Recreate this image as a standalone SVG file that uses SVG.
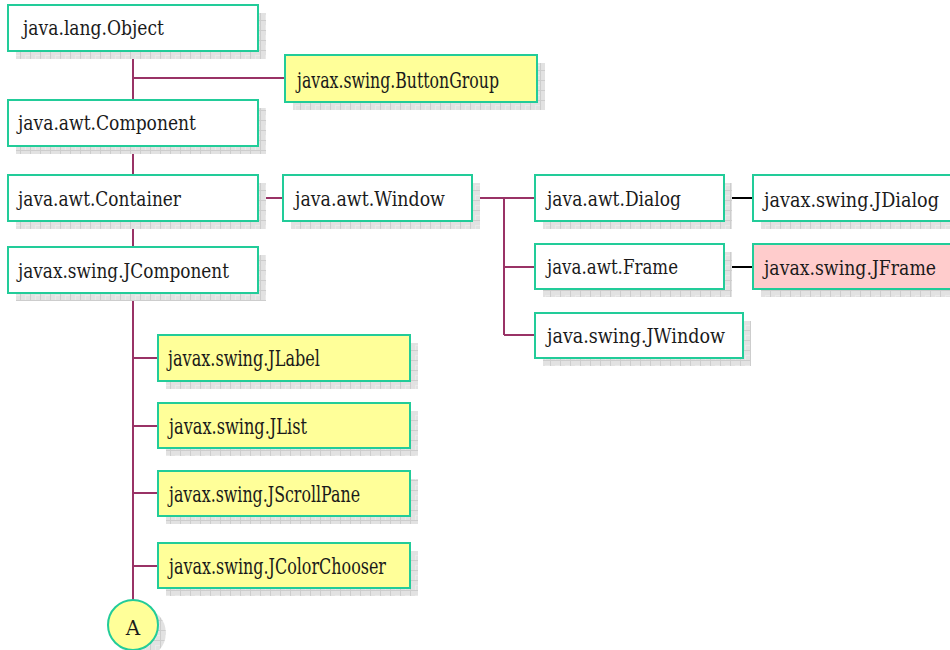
<svg xmlns="http://www.w3.org/2000/svg" width="950" height="650" viewBox="0 0 950 650">
<defs>
<pattern id="grid" width="10" height="10" patternUnits="userSpaceOnUse">
<rect width="10" height="10" fill="#E2E2E2"/>
<path d="M0 0.5H10M0.5 0V10" stroke="#CDCDCD" stroke-width="1"/>
<path d="M5 5.5H10M5.5 5V10" stroke="#EAEAEA" stroke-width="1"/>
</pattern>
</defs>
<style>
.sh{fill:url(#grid)}
.bx{fill:#FFFFFF;stroke:#22CC99;stroke-width:2}
.yl{fill:#FFFF99;stroke:#22CC99;stroke-width:2}
.pk{fill:#FFCCCC;stroke:#22CC99;stroke-width:2}
.t{font-size:20px}
.ty{font-size:22px}
.c{stroke:#993366;stroke-width:2;fill:none}
.k{stroke:#000000;stroke-width:2;fill:none}
</style>
<g id="connectors">
<path class="c" d="M133 51V100M133 78H285M133 146V175M133 221V247M133 293V600"/>
<path class="c" d="M258 198H283M472 198H535M504 198V335M504 267H535M504 335H535"/>
<path class="c" d="M133 358H158M133 426H158M133 493H158M133 566H158"/>
<path class="k" d="M724 198H753M724 267H753"/>
</g>
<g font-family="'DejaVu Serif', 'Liberation Serif', serif" fill="#1a1a1a">
<g id="object"><rect class="sh" x="16" y="13" width="250" height="46"/><rect class="bx" x="8" y="5" width="250" height="46"/><text class="t" x="23" y="35" textLength="141" lengthAdjust="spacingAndGlyphs">java.lang.Object</text></g>
<g id="buttongroup"><rect class="sh" x="293" y="63" width="252" height="47"/><rect class="yl" x="285" y="55" width="252" height="47"/><text class="ty" x="297" y="88" textLength="202" lengthAdjust="spacingAndGlyphs">javax.swing.ButtonGroup</text></g>
<g id="component"><rect class="sh" x="16" y="108" width="250" height="46"/><rect class="bx" x="8" y="100" width="250" height="46"/><text class="t" x="18" y="130" textLength="178" lengthAdjust="spacingAndGlyphs">java.awt.Component</text></g>
<g id="container"><rect class="sh" x="16" y="183" width="250" height="46"/><rect class="bx" x="8" y="175" width="250" height="46"/><text class="t" x="18" y="206" textLength="163" lengthAdjust="spacingAndGlyphs">java.awt.Container</text></g>
<g id="jcomponent"><rect class="sh" x="16" y="255" width="250" height="46"/><rect class="bx" x="8" y="247" width="250" height="46"/><text class="t" x="18" y="278" textLength="211" lengthAdjust="spacingAndGlyphs">javax.swing.JComponent</text></g>
<g id="window"><rect class="sh" x="291" y="183" width="189" height="46"/><rect class="bx" x="283" y="175" width="189" height="46"/><text class="t" x="295" y="206" textLength="150" lengthAdjust="spacingAndGlyphs">java.awt.Window</text></g>
<g id="dialog"><rect class="sh" x="543" y="183" width="189" height="46"/><rect class="bx" x="535" y="175" width="189" height="46"/><text class="t" x="547" y="206" textLength="134" lengthAdjust="spacingAndGlyphs">java.awt.Dialog</text></g>
<g id="jdialog"><rect class="sh" x="761" y="183" width="210" height="46"/><rect class="bx" x="753" y="175" width="210" height="46"/><text class="t" x="764" y="207" textLength="175" lengthAdjust="spacingAndGlyphs">javax.swing.JDialog</text></g>
<g id="frame"><rect class="sh" x="543" y="252" width="189" height="45"/><rect class="bx" x="535" y="244" width="189" height="45"/><text class="t" x="547" y="274" textLength="131" lengthAdjust="spacingAndGlyphs">java.awt.Frame</text></g>
<g id="jframe"><rect class="sh" x="761" y="252" width="210" height="45"/><rect class="pk" x="753" y="244" width="210" height="45"/><text class="t" x="764" y="275" textLength="172" lengthAdjust="spacingAndGlyphs">javax.swing.JFrame</text></g>
<g id="jwindow"><rect class="sh" x="543" y="321" width="208" height="45"/><rect class="bx" x="535" y="313" width="208" height="45"/><text class="t" x="547" y="343" textLength="178" lengthAdjust="spacingAndGlyphs">java.swing.JWindow</text></g>
<g id="jlabel"><rect class="sh" x="166" y="343" width="252" height="46"/><rect class="yl" x="158" y="335" width="252" height="46"/><text class="ty" x="168" y="366" textLength="152" lengthAdjust="spacingAndGlyphs">javax.swing.JLabel</text></g>
<g id="jlist"><rect class="sh" x="166" y="411" width="252" height="45"/><rect class="yl" x="158" y="403" width="252" height="45"/><text class="ty" x="169" y="434" textLength="138" lengthAdjust="spacingAndGlyphs">javax.swing.JList</text></g>
<g id="jscrollpane"><rect class="sh" x="166" y="479" width="252" height="45"/><rect class="yl" x="158" y="471" width="252" height="45"/><text class="ty" x="169" y="502" textLength="191" lengthAdjust="spacingAndGlyphs">javax.swing.JScrollPane</text></g>
<g id="jcolorchooser"><rect class="sh" x="166" y="551" width="252" height="45"/><rect class="yl" x="158" y="543" width="252" height="45"/><text class="ty" x="169" y="574" textLength="217" lengthAdjust="spacingAndGlyphs">javax.swing.JColorChooser</text></g>
<g id="connectorA"><circle class="sh" cx="141" cy="633" r="25"/><circle class="yl" cx="133" cy="625" r="25"/><text class="t" x="133" y="635" text-anchor="middle">A</text></g>
</g>
</svg>
